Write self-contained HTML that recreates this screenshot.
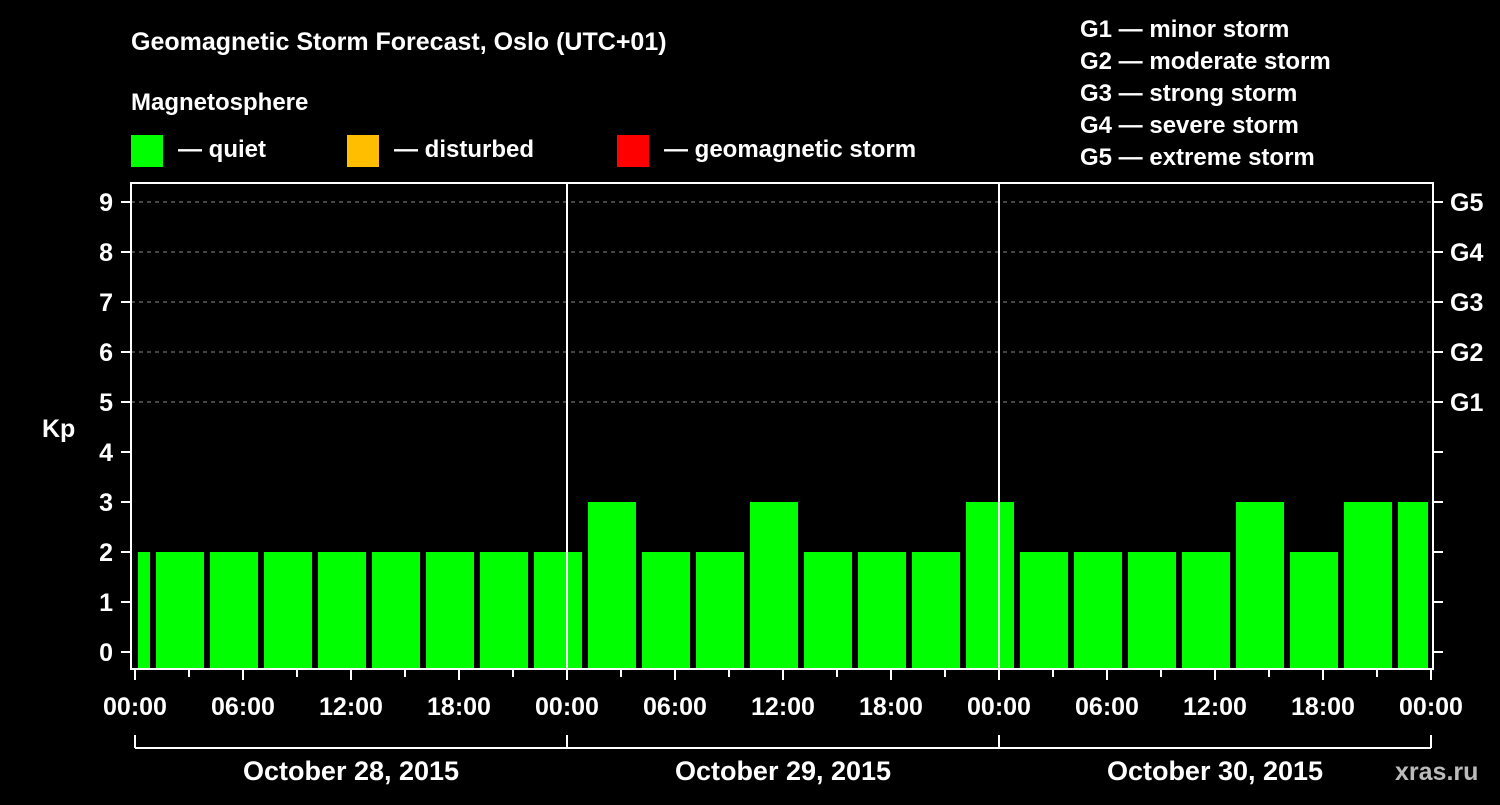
<!DOCTYPE html>
<html><head><meta charset="utf-8"><style>
body{margin:0;background:#000;width:1500px;height:800px;overflow:hidden}
svg text{font-family:"Liberation Sans",sans-serif;font-weight:bold;fill:#fff}
</style></head><body>
<svg id="chart" width="1500" height="800">
<text x="131" y="50" font-size="25">Geomagnetic Storm Forecast, Oslo (UTC+01)</text>
<text x="131" y="110" font-size="24">Magnetosphere</text>
<g><rect x="131" y="135" width="32" height="32" fill="#00ff00"/><text x="178" y="157" font-size="24">— quiet</text></g>
<g><rect x="347" y="135" width="32" height="32" fill="#ffbf00"/><text x="394" y="157" font-size="24">— disturbed</text></g>
<g><rect x="617" y="135" width="32" height="32" fill="#ff0000"/><text x="664" y="157" font-size="24">— geomagnetic storm</text></g>
<g font-size="24">
<text x="1080" y="37">G1 — minor storm</text><text x="1080" y="69">G2 — moderate storm</text><text x="1080" y="101">G3 — strong storm</text><text x="1080" y="133">G4 — severe storm</text><text x="1080" y="165">G5 — extreme storm</text></g>
<text x="42" y="437" font-size="25">Kp</text>
<text x="1395" y="780" font-size="25" fill="#bbb" style="fill:#bbb">xras.ru</text>
<g id="grid"></g><g id="bars"></g><g id="axes"></g>
</svg>
<script>
const kpValues=[2,2,2,2,2,2,2,2,2,3,2,2,3,2,2,2,3,2,2,2,2,3,2,3,3];
const yTicks=[0,1,2,3,4,5,6,7,8,9];
const gLabels=["G1","G2","G3","G4","G5"];
const xTickLabels=["00:00","06:00","12:00","18:00","00:00","06:00","12:00","18:00","00:00","06:00","12:00","18:00","00:00"];
const dayLabels=["October 28, 2015","October 29, 2015","October 30, 2015"];
const NS="http://www.w3.org/2000/svg";
const X0=135,PXH=18,Y0=652,PXK=50,LEFT=131,RIGHT=1433,TOP=183,BOT=669;
const x=h=>X0+h*PXH, y=k=>Y0-k*PXK;
function mk(tag,attrs,parent,txt){const e=document.createElementNS(NS,tag);for(const k in attrs)e.setAttribute(k,attrs[k]);if(txt!==undefined)e.textContent=txt;document.getElementById(parent).appendChild(e);return e;}
// grid
yTicks.forEach(k=>{if(k>=5){const e=mk('line',{x1:LEFT,x2:RIGHT,y1:y(k),y2:y(k),stroke:'#888','stroke-dasharray':'4,4','stroke-width':1},'grid');

}});
// bars
kpValues.forEach((v,i)=>{let s=-2+3*i,e=s+3;s=Math.max(s,0);e=Math.min(e,72);
const r=mk('rect',{x:x(s)+3,y:y(v),width:x(e)-x(s)-6,height:BOT-y(v)-1,fill:'#00ff00'},'bars');

});
// day separators
[24,48].forEach(h=>{const l=mk('line',{x1:x(h),x2:x(h),y1:TOP,y2:BOT,stroke:'#fff','stroke-width':2},'axes');

});
// frame
const f=mk('rect',{x:LEFT,y:TOP,width:RIGHT-LEFT,height:BOT-TOP,fill:'none',stroke:'#fff','stroke-width':2},'axes');


// y ticks
yTicks.forEach(k=>{mk('line',{x1:LEFT-10,x2:LEFT,y1:y(k),y2:y(k),stroke:'#fff','stroke-width':2},'axes');
mk('line',{x1:RIGHT,x2:RIGHT+10,y1:y(k),y2:y(k),stroke:'#fff','stroke-width':2},'axes');
const t=mk('text',{x:113,y:y(k)+9,'font-size':25,'text-anchor':'end'},'axes',k);

});
gLabels.forEach((g,i)=>{const t=mk('text',{x:1450,y:y(i+5)+9,'font-size':25},'axes',g);

});
// x ticks
for(let h=0;h<=72;h+=3){const major=h%6===0;mk('line',{x1:x(h),x2:x(h),y1:BOT,y2:BOT+(major?11:8),stroke:'#fff','stroke-width':2},'axes');}
xTickLabels.forEach((lb,i)=>{const t=mk('text',{x:x(i*6),y:715,'font-size':25,'text-anchor':'middle'},'axes',lb);

});
// day brackets
mk('line',{x1:x(0),x2:x(72),y1:748,y2:748,stroke:'#fff','stroke-width':2},'axes');
[0,24,48,72].forEach(h=>mk('line',{x1:x(h),x2:x(h),y1:735,y2:748,stroke:'#fff','stroke-width':2},'axes'));
dayLabels.forEach((d,i)=>{const t=mk('text',{x:x(i*24+12),y:780,'font-size':27,'text-anchor':'middle'},'axes',d);

});
</script>
</body></html>
